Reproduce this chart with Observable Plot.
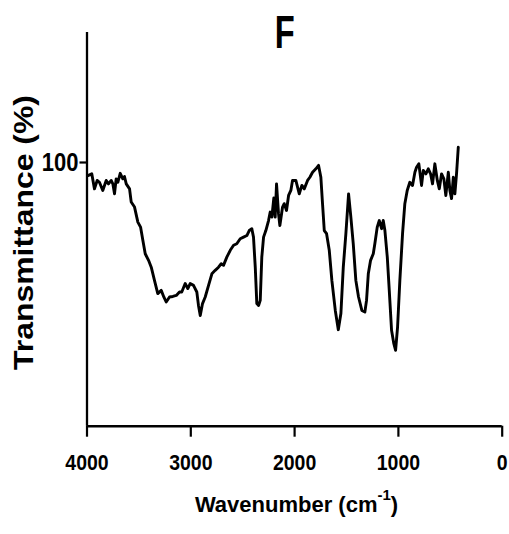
<!DOCTYPE html>
<html>
<head>
<meta charset="utf-8">
<script src="https://cdn.jsdelivr.net/npm/d3@7"></script>
<script src="https://cdn.jsdelivr.net/npm/@observablehq/plot@0.6"></script>
<style>
  html, body { margin: 0; padding: 0; background: #fff; }
</style>
</head>
<body>
<script>
// ---- data ----
const chartTitle = "F";
const xTitle = "Wavenumber (cm";
const xTitleSup = "-1";
const yTitle = "Transmittance (%)";
const xTicks = [4000, 3000, 2000, 1000, 0];
const yTicks = [100];

const wavenumber = [3986,3954,3928,3902,3880,3848,3815,3793,3767,3751,
3735,3719,3703,3680,3655,3639,3622,3590,3574,3542,
3510,3484,3462,3439,3407,3381,3350,3318,3285,3260,
3237,3205,3173,3140,3109,3087,3054,3029,3006,2974,
2942,2926,2909,2887,2861,2829,2797,2765,2733,2707,
2685,2653,2620,2588,2557,2524,2492,2460,2437,2412,
2396,2379,2364,2347,2331,2316,2299,2277,2251,2235,
2219,2200,2187,2174,2155,2142,2116,2100,2078,2058,
2036,2020,1988,1955,1930,1907,1875,1853,1827,1795,
1769,1747,1731,1714,1692,1666,1641,1608,1579,1554,
1531,1506,1480,1458,1435,1410,1384,1352,1323,1307,
1290,1268,1242,1227,1204,1184,1162,1146,1130,1107,
1088,1066,1044,1027,1008,986,960,938,915,890,
864,841,825,803,777,760,735,712,690,671,
649,625,606,584,562,543,519,504,488,471,
456,440,423];

const transmittance = [95.1,95.7,90.0,93.2,92.5,89.4,93.2,91.9,93.2,91.9,
88.1,93.8,92.5,95.9,93.8,94.7,91.9,90.0,85.0,83.1,
77.4,75.5,70.5,65.4,62.9,60.3,55.3,50.3,51.5,49.0,
47.1,49.0,49.2,49.6,50.9,50.9,54.1,52.2,54.1,53.4,
50.9,45.8,42.0,46.5,49.0,53.4,57.8,59.1,60.3,61.6,
61.0,64.1,66.7,68.6,69.2,71.1,71.7,72.3,74.2,74.9,
71.7,60.3,46.5,45.8,47.7,64.1,71.7,74.2,78.0,81.2,
79.3,86.6,79.3,91.9,80.6,76.1,83.1,84.4,81.8,87.5,
89.4,93.2,93.2,88.1,91.3,90.0,93.2,94.4,96.3,97.6,
98.9,94.4,84.4,74.2,73.0,66.7,55.3,43.9,36.6,42.7,
60.3,73.0,88.1,79.3,69.2,55.3,49.0,43.9,43.3,47.7,
57.8,62.9,65.4,69.2,75.5,78.0,74.9,78.0,74.2,64.1,
51.5,36.4,31.3,28.8,37.6,55.3,73.0,84.4,89.4,92.5,
91.3,96.3,98.2,99.5,91.3,97.0,95.7,97.6,95.7,91.9,
99.5,93.2,90.0,95.7,93.8,87.5,96.3,89.4,86.3,94.4,
88.1,95.7,105.8];

const spectrum = wavenumber.map((w, i) => ({wn: w, t: transmittance[i]}));

// ---- chart ----
const FONT = "'Liberation Sans', Arial, Helvetica, sans-serif";
const svgNode = Plot.plot({
  width: 509,
  height: 534,
  marginLeft: 86.5,
  marginRight: 7.3,
  marginTop: 32,
  marginBottom: 108.3,
  style: {fontFamily: FONT, background: "#fff", color: "#000", overflow: "visible"},
  x: {domain: [4000, 0], label: null},
  y: {domain: [0, 149.3], label: null},
  marks: [
    Plot.axisX({ticks: xTicks, tickFormat: d => String(d), tickSize: 11, tickPadding: 17.5,
                strokeWidth: 2.2, fontSize: 22, fontWeight: "bold", label: null}),
    Plot.axisY({ticks: yTicks, tickFormat: d => String(d), tickSize: 7, tickPadding: 1.5,
                strokeWidth: 2.2, fontSize: 25, fontWeight: "bold", label: null}),
    Plot.ruleX([4000], {stroke: "#000", strokeWidth: 2.3}),
    Plot.ruleY([0], {stroke: "#000", strokeWidth: 2.6}),
    Plot.line(spectrum, {x: "wn", y: "t", stroke: "#000", strokeWidth: 2.9,
                         strokeLinejoin: "round", strokeLinecap: "round"})
  ]
});
document.body.append(svgNode);

const svg = d3.select(svgNode);

function squeeze(sel, factor) {
  sel.each(function () {
    const L = this.getComputedTextLength();
    this.setAttribute("textLength", (L * factor).toFixed(2));
    this.setAttribute("lengthAdjust", "spacingAndGlyphs");
  });
}

const xl = svg.selectAll('[aria-label="x-axis tick label"] text')
  .attr("font-size", 22).attr("font-weight", "bold");
squeeze(xl, 0.885);
const yl = svg.selectAll('[aria-label="y-axis tick label"] text')
  .attr("font-size", 25).attr("font-weight", "bold");
squeeze(yl, 0.88);

// title
const t = svg.append("text")
  .attr("x", 284.7).attr("y", 48)
  .attr("text-anchor", "middle")
  .attr("font-family", FONT).attr("font-size", 46).attr("font-weight", "bold")
  .attr("fill", "#000")
  .text(chartTitle);
squeeze(t, 0.71);

// x axis title with superscript
const xt = svg.append("text")
  .attr("x", 296.5).attr("y", 511.7)
  .attr("text-anchor", "middle")
  .attr("font-family", FONT).attr("font-size", 22).attr("font-weight", "bold")
  .attr("fill", "#000");
xt.append("tspan").text(xTitle);
xt.append("tspan").attr("font-size", 15).attr("dy", -11.5).text(xTitleSup);
xt.append("tspan").attr("dy", 11.5).text(")");

// y axis title
const yt = svg.append("text")
  .attr("transform", "translate(33.3,232.5) rotate(-90)")
  .attr("text-anchor", "middle")
  .attr("font-family", FONT).attr("font-size", 28.5).attr("font-weight", "bold")
  .attr("fill", "#000")
  .text(yTitle);
squeeze(yt, 1.12);
</script>
</body>
</html>
